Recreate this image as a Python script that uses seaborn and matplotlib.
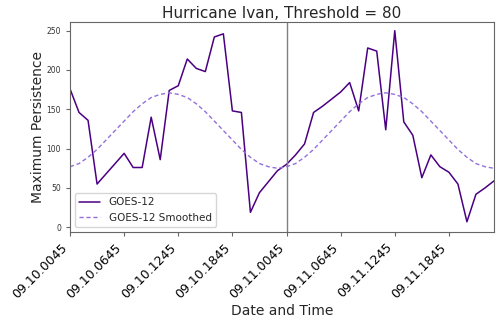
import seaborn as sns
import pandas as pd
import matplotlib.pyplot as plt

sns.set_style("ticks")
plt.rcParams['font.family'] = ['DejaVu Sans']

# hourly samples, 09.10 00:45 -> 09.11 23:45
hours = list(range(48))
persistence = [176, 146, 136, 55, 68, 81, 94, 76, 76, 140, 86, 174,
               180, 214, 202, 198, 242, 246, 148, 146, 19, 44, 58, 72,
               80, 92, 106, 146, 154, 163, 172, 184, 148, 228, 224, 124,
               250, 134, 117, 63, 92, 77, 70, 55, 7, 42, 50, 59]
smoothed = [77, 81, 89, 99, 111, 123, 135, 147, 157, 165, 169, 171,
            169, 165, 157, 147, 135, 123, 111, 99, 89, 81, 77, 75,
            77, 81, 89, 99, 111, 123, 135, 147, 157, 165, 169, 171,
            169, 165, 157, 147, 135, 123, 111, 99, 89, 81, 77, 75]
tick_pos = [0, 6, 12, 18, 24, 30, 36, 42]
tick_labels = ["09.10.0045", "09.10.0645", "09.10.1245", "09.10.1845",
               "09.11.0045", "09.11.0645", "09.11.1245", "09.11.1845"]

df = pd.DataFrame({"hour": hours, "raw": persistence, "smooth": smoothed})

fig, ax = plt.subplots(figsize=(5, 3.24), dpi=100)
fig.subplots_adjust(left=0.14, right=0.988, top=0.932, bottom=0.284)

sns.lineplot(data=df, x="hour", y="raw", ax=ax, color="indigo",
             linewidth=1.1, label="GOES-12")
sns.lineplot(data=df, x="hour", y="smooth", ax=ax, color="mediumpurple",
             linewidth=1.0, linestyle=(0, (3, 2)), label="GOES-12 Smoothed")

ax.axvline(24, color="gray", linewidth=1.0)

ax.set_xlim(0, 47)
ax.set_ylim(-6, 261)
ax.set_xticks(tick_pos)
ax.set_xticklabels(tick_labels, rotation=45, ha="right", fontsize=9)
ax.set_yticks([0, 50, 100, 150, 200, 250])
ax.tick_params(axis="y", labelsize=5.5)
ax.set_title("Hurricane Ivan, Threshold = 80", fontsize=11, pad=3)
ax.set_xlabel("Date and Time", fontsize=10, labelpad=2)
ax.set_ylabel("Maximum Persistence", fontsize=10, labelpad=1)

for s in ax.spines.values():
    s.set_color("#666666")
ax.tick_params(axis="x", colors="#666666", labelcolor="black", length=3)
ax.tick_params(axis="y", colors="#666666", labelcolor="#333333", length=3)

ax.legend(loc="lower left", fontsize=7.5)

fig.savefig("out.png", dpi=100)
